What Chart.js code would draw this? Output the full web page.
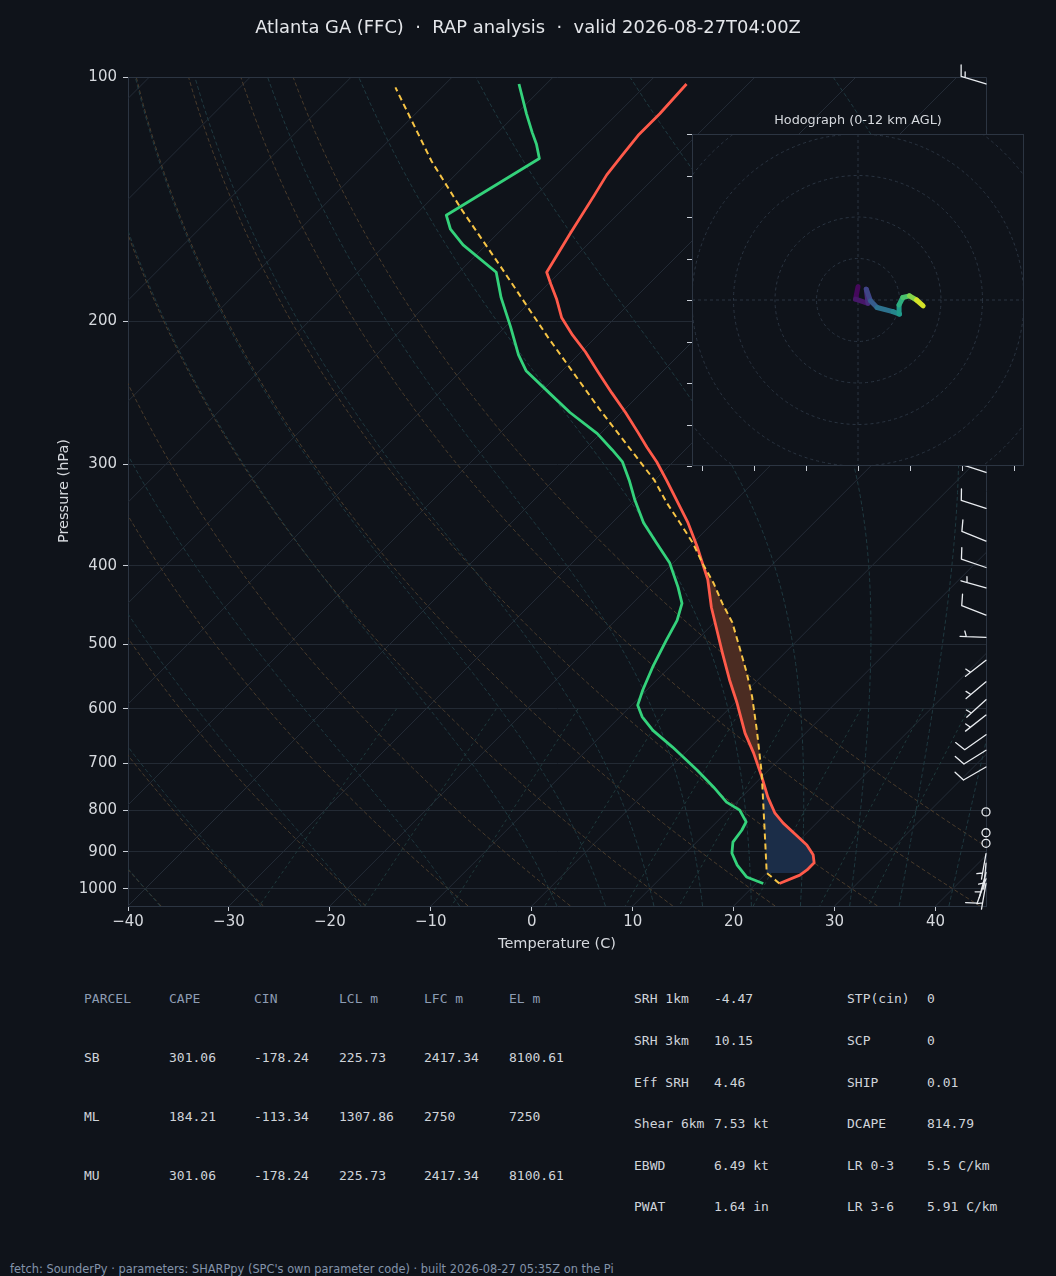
<!DOCTYPE html>
<html>
<head>
<meta charset="utf-8">
<title>Skew-T - Atlanta GA (FFC)</title>
<script src="https://cdn.jsdelivr.net/npm/chart.js@4.4.1/dist/chart.umd.min.js"></script>
<style>
  html, body { margin: 0; padding: 0; background: #0f131a; }
  #page { position: relative; width: 1056px; height: 1276px; overflow: hidden; background: #0f131a;
          font-family: 'DejaVu Sans', sans-serif; color: #d6d9de; }
  canvas { position: absolute; }
  #skewt { left: 0; top: 0; }
  #hodo { left: 686px; top: 128px; }
  .t { position: absolute; white-space: pre; line-height: 16px; }
  .mono { font-family: 'DejaVu Sans Mono', monospace; font-size: 13px; color: #cfd4da; }
  .head { color: #8d9cb3; }
</style>
</head>
<body>
<div id="page">
  <canvas id="skewt" width="1056" height="960"></canvas>
  <canvas id="hodo" width="344" height="344"></canvas>
  <div class="t" id="title" style="left:0; width:1056px; text-align:center; top:16px; font-size:17.9px; line-height:22px; color:#e4e6ea;">Atlanta GA (FFC)  ·  RAP analysis  ·  valid 2026-08-27T04:00Z</div>
  <div class="t" style="left:758px; width:200px; text-align:center; top:112px; font-size:12.8px;">Hodograph (0-12 km AGL)</div>
  <div class="t" style="left:357px; width:400px; text-align:center; top:935px; font-size:14.5px;">Temperature (C)</div>
  <div class="t" style="left:-37px; width:200px; text-align:center; top:483px; font-size:14.5px; transform:rotate(-90deg);">Pressure (hPa)</div>
  <div id="tables"></div>
  <div class="t" style="left:10px; top:1261px; font-size:11.4px; color:#8494aa;">fetch: SounderPy · parameters: SHARPpy (SPC's own parameter code) · built 2026-08-27 05:35Z on the Pi</div>
</div>
<script>
'use strict';

// ---- sounding (hPa / degC) ----
const tempP = [985, 962, 948, 929, 908, 883, 859, 830, 807, 771, 728, 680, 643, 590, 553, 512, 480, 450, 416, 401, 379, 354,
               314, 298, 286, 274, 259, 245, 231, 218, 208, 198, 188, 180, 174, 156, 140, 132, 125, 118, 111, 102];
const tempT = [22.3, 23.5, 23.7, 23.7, 22.8, 21.2, 19.2, 16.7, 14.9, 12.6, 10.0, 6.8, 4.0, 0.2, -2.8, -6.2, -9.0, -11.8, -14.9, -16.6, -19.2, -22.5,
               -28.8, -31.6, -34.0, -36.4, -39.6, -42.9, -46.3, -49.6, -52.5, -55.3, -57.6, -59.7, -61.3, -62.8, -64.2, -65.0, -65.4, -65.8, -65.8, -66.1];

const dewP = [985, 967, 935, 904, 876, 847, 827, 800, 782, 749, 714, 669, 638, 614, 594, 569, 533, 494, 467, 445, 425, 397,
              375, 354, 332, 314, 298, 288, 275, 259, 246, 230, 220, 203, 187, 174, 161, 154, 148, 126, 121, 117, 111, 102];
const dewT = [20.7, 18.4, 16.3, 14.6, 13.6, 13.3, 12.9, 11.1, 9.0, 6.2, 2.9, -1.8, -5.4, -7.8, -9.4, -10.4, -11.7, -13.0, -13.9, -15.1, -17.1, -20.3,
              -23.6, -26.9, -30.0, -32.5, -35.0, -37.2, -40.3, -45.1, -48.8, -53.6, -55.9, -59.5, -63.3, -66.3, -72.3, -75.1, -76.9, -73.3, -75.0, -76.6, -79.0, -82.7];

const parcelP = [985, 956, 888, 777, 720, 638, 580, 542, 508, 470, 445, 420, 399, 375, 354, 335, 314, 257, 209, 171, 146, 127, 103];
const parcelT = [22.3, 20.0, 17.3, 12.4, 9.6, 4.9, 1.1, -1.8, -4.7, -8.2, -11.1, -14.0, -16.8, -20.0, -23.3, -26.5, -30.0, -42.4, -54.8, -66.5, -75.8, -83.7, -94.6];

// shading limits (hPa): bottom of CIN shading, LFC, EL
const cinBottom = 956;
const lfcP = 722;
const elP = 388;

// ---- winds (direction deg, speed kt) ----
const windP =   [102, 125, 150, 200, 250, 307, 340, 373, 402, 426, 460, 490, 523, 556, 585, 611, 646, 675, 708, 804, 853, 879, 905, 930, 955, 972, 985];
const windDir = [287, 280, 275, 270, 280, 288, 288, 292, 289, 286, 291, 272, 232, 230, 228, 232, 235, 238, 240,   0,   0,   0, 190, 185, 195, 200, 190];
const windSpd = [ 15,  15,  15,  15,  10,  10,  10,  10,  10,   5,  10,   5,   5,   5,   5,   5,  10,  10,  10,   0,   0,   0,   5,   5,   5,  10,   5];

// ---- hodograph (u, v in kt; height km AGL) ----
const hodoU = [0.0, -0.6, 2.4, 2.0, 3.0, 4.6, 8.4, 10.0, 9.9, 10.8, 12.4, 14.1, 15.7];
const hodoV = [3.2, 0.2, -0.8, 2.6, -0.2, -1.8, -2.8, -3.4, -1.2, 0.6, 1.0, 0.0, -1.4];
const hodoH = [0, 0.5, 1, 2, 3, 4, 5, 6, 7, 8, 9, 10.5, 12];

// ---- axes ----
const pressureTicks = [100, 200, 300, 400, 500, 600, 700, 800, 900, 1000];
const tempTicks = [-40, -30, -20, -10, 0, 10, 20, 30, 40];
const hodoRings = [10, 20, 30, 40, 50];
const hodoXTicks = [-37.5, -25, -12.5, 0, 12.5, 25, 37.5];
const hodoYTicks = [-40, -30, -20, -10, 0, 10, 20, 30, 40];

// ---- parameter tables ----
const parcelHeader = ['PARCEL', 'CAPE', 'CIN', 'LCL m', 'LFC m', 'EL m'];
const parcelRows = [
  ['SB', '301.06', '-178.24', '225.73', '2417.34', '8100.61'],
  ['ML', '184.21', '-113.34', '1307.86', '2750', '7250'],
  ['MU', '301.06', '-178.24', '225.73', '2417.34', '8100.61']
];
const kinLabels = ['SRH 1km', 'SRH 3km', 'Eff SRH', 'Shear 6km', 'EBWD', 'PWAT'];
const kinValues = ['-4.47', '10.15', '4.46', '7.53 kt', '6.49 kt', '1.64 in'];
const thermoLabels = ['STP(cin)', 'SCP', 'SHIP', 'DCAPE', 'LR 0-3', 'LR 3-6'];
const thermoValues = ['0', '0', '0.01', '814.79', '5.5 C/km', '5.91 C/km'];

// reference lines
const dryT0 = [-40, -30, -20, -10, 0, 10, 20, 30, 40, 50];
const moistT0 = [-40, -30, -20, -10, 0, 5, 10, 15, 20, 25, 30, 35, 40, 45];
const mixRatios = [0.0004, 0.001, 0.002, 0.004, 0.007, 0.01, 0.016, 0.024, 0.032];

const BG = '#0f131a';
const P_BOTTOM = 1050, P_TOP = 100;
const SKEW = 80.42; // degC per pressure decade -> 45 deg isotherms on the 858x829 plot

const skewX = (t, p) => t + SKEW * Math.log10(P_BOTTOM / p);
const profile = (ps, ts) => ps.map((p, i) => ({x: skewX(ts[i], p), y: p}));

function valueAt(ps, ts, p) {
    for (let i = 0; i < ps.length - 1; i++) {
        if (p <= ps[i] && p >= ps[i + 1]) {
            const f = Math.log(ps[i] / p) / Math.log(ps[i] / ps[i + 1]);
            return ts[i] + f * (ts[i + 1] - ts[i]);
        }
    }
    return ts[ts.length - 1];
}

// points of a profile between two pressures, from hi to lo
function band(ps, ts, hi, lo) {
    const out = [{x: skewX(valueAt(ps, ts, hi), hi), y: hi}];
    ps.forEach((p, i) => { if (p < hi && p > lo) out.push({x: skewX(ts[i], p), y: p}); });
    out.push({x: skewX(valueAt(ps, ts, lo), lo), y: lo});
    return out;
}

const cinShape = band(parcelP, parcelT, cinBottom, lfcP).concat(band(tempP, tempT, cinBottom, lfcP).reverse());
const capeShape = band(parcelP, parcelT, lfcP, elP).concat(band(tempP, tempT, lfcP, elP).reverse());

// thermodynamic background
function logSteps(n) {
    const out = [];
    for (let i = 0; i <= n; i++) out.push(P_BOTTOM * Math.pow(P_TOP / P_BOTTOM, i / n));
    return out;
}

function dryAdiabat(t0) {
    return logSteps(60).map(p => ({x: skewX((t0 + 273.15) * Math.pow(p / 1000, 0.2857) - 273.15, p), y: p}));
}

function moistAdiabat(t0) {
    const Rd = 287.04, Cp = 1005.7, Lv = 2.501e6, eps = 0.622;
    const f = (p, T) => {
        const es = 6.112 * Math.exp(17.67 * (T - 273.15) / (T - 29.65));
        const rs = eps * es / (p - es);
        return (Rd * T + Lv * rs) / (Cp + Lv * Lv * rs * eps / (Rd * T * T)) / p;
    };
    const run = (pEnd, n) => {
        const pts = [];
        let T = t0 + 273.15, p = 1000;
        const dp = (pEnd - 1000) / n;
        pts.push({p, T});
        for (let i = 0; i < n; i++) {
            const k1 = f(p, T);
            const k2 = f(p + dp / 2, T + dp / 2 * k1);
            const k3 = f(p + dp / 2, T + dp / 2 * k2);
            const k4 = f(p + dp, T + dp * k3);
            T += dp / 6 * (k1 + 2 * k2 + 2 * k3 + k4);
            p += dp;
            pts.push({p, T});
        }
        return pts;
    };
    const pts = run(P_BOTTOM, 4).reverse().concat(run(P_TOP, 120).slice(1));
    return pts.map(o => ({x: skewX(o.T - 273.15, o.p), y: o.p}));
}

function mixingLine(w) {
    const out = [];
    for (let p = 600; p <= P_BOTTOM; p += 50) {
        const e = p * w / (0.622 + w);
        const l = Math.log(e / 6.112);
        out.push({x: skewX(243.5 * l / (17.67 - l), p), y: p});
    }
    return out;
}

const dryLines = dryT0.map(dryAdiabat);
const moistLines = moistT0.map(moistAdiabat);
const mixLines = mixRatios.map(mixingLine);

function strokePath(ctx, x, y, pts) {
    ctx.beginPath();
    pts.forEach((pt, i) => {
        const px = x.getPixelForValue(pt.x), py = y.getPixelForValue(pt.y);
        if (i === 0) ctx.moveTo(px, py); else ctx.lineTo(px, py);
    });
}

const skewBackground = {
    id: 'skewBackground',
    beforeDatasetsDraw(chart) {
        const {ctx, chartArea: a, scales: {x, y}} = chart;
        ctx.save();
        ctx.beginPath();
        ctx.rect(a.left, a.top, a.width, a.height);
        ctx.clip();
        ctx.lineWidth = 1;

        // isotherms
        ctx.strokeStyle = '#242c37';
        for (let t = -120; t <= 40; t += 10) {
            strokePath(ctx, x, y, [{x: skewX(t, P_BOTTOM), y: P_BOTTOM}, {x: skewX(t, P_TOP), y: P_TOP}]);
            ctx.stroke();
        }
        ctx.setLineDash([4, 2.5]);
        ctx.strokeStyle = '#4a3c2c';
        dryLines.forEach(l => { strokePath(ctx, x, y, l); ctx.stroke(); });
        ctx.strokeStyle = '#1f3940';
        moistLines.forEach(l => { strokePath(ctx, x, y, l); ctx.stroke(); });
        ctx.setLineDash([3, 3]);
        ctx.strokeStyle = '#1f3a3c';
        mixLines.forEach(l => { strokePath(ctx, x, y, l); ctx.stroke(); });
        ctx.setLineDash([]);

        // CIN / CAPE shading
        ctx.fillStyle = '#1b2d48';
        strokePath(ctx, x, y, cinShape);
        ctx.closePath();
        ctx.fill();
        ctx.fillStyle = '#4b2c22';
        strokePath(ctx, x, y, capeShape);
        ctx.closePath();
        ctx.fill();
        ctx.restore();

        // top and right spines
        ctx.save();
        ctx.strokeStyle = '#2c3542';
        ctx.lineWidth = 1;
        ctx.beginPath();
        ctx.moveTo(a.left, a.top + 0.5);
        ctx.lineTo(a.right + 0.5, a.top + 0.5);
        ctx.lineTo(a.right + 0.5, a.bottom);
        ctx.stroke();
        ctx.restore();
    }
};

// matplotlib-style barb: staff toward the wind source, feathers lean to the tip
function drawBarb(ctx, bx, by, dir, spd) {
    const L = 26, spacing = 4.2, lean = 17 * Math.PI / 180;
    if (spd < 2.5) {
        ctx.beginPath();
        ctx.arc(bx, by, 4, 0, 2 * Math.PI);
        ctx.stroke();
        return;
    }
    const r = dir * Math.PI / 180;
    const dx = Math.sin(r), dy = -Math.cos(r);
    const px = -dy, py = dx;
    const tx = bx + dx * L, ty = by + dy * L;
    ctx.beginPath();
    ctx.moveTo(bx, by);
    ctx.lineTo(tx, ty);
    const s = Math.round(spd / 5) * 5;
    const full = Math.floor(s / 10);
    const half = s - full * 10 >= 5;
    const fx = px * Math.cos(lean) + dx * Math.sin(lean);
    const fy = py * Math.cos(lean) + dy * Math.sin(lean);
    let off = 0;
    const feather = (len) => {
        const sx = tx - dx * off, sy = ty - dy * off;
        ctx.moveTo(sx, sy);
        ctx.lineTo(sx + fx * len, sy + fy * len);
        off += spacing;
    };
    for (let k = 0; k < full; k++) feather(11.5);
    if (half) {
        if (off === 0) off = 1.5 * spacing;
        feather(5.8);
    }
    ctx.stroke();
}

const windBarbs = {
    id: 'windBarbs',
    afterDatasetsDraw(chart) {
        const {ctx, chartArea: a, scales: {y}} = chart;
        ctx.save();
        ctx.strokeStyle = '#e9ecf0';
        ctx.lineWidth = 1.3;
        ctx.lineCap = 'round';
        windP.forEach((p, i) => drawBarb(ctx, a.right, y.getPixelForValue(p), windDir[i], windSpd[i]));
        ctx.restore();
    }
};

Chart.defaults.font.family = "'DejaVu Sans', sans-serif";
Chart.defaults.color = '#d6d9de';

new Chart(document.getElementById('skewt'), {
    type: 'scatter',
    data: {
        datasets: [
            {label: 'Parcel', data: profile(parcelP, parcelT), showLine: true, borderColor: '#f6c445',
             borderWidth: 2, borderDash: [6, 4], pointRadius: 0},
            {label: 'Temperature', data: profile(tempP, tempT), showLine: true, borderColor: '#ff5a4a',
             borderWidth: 2.8, pointRadius: 0, borderJoinStyle: 'round'},
            {label: 'Dewpoint', data: profile(dewP, dewT), showLine: true, borderColor: '#34d27b',
             borderWidth: 2.8, pointRadius: 0, borderJoinStyle: 'round'}
        ]
    },
    options: {
        responsive: false,
        animation: false,
        layout: {padding: {left: 0, right: 70, top: 77, bottom: 0}},
        plugins: {legend: {display: false}, tooltip: {enabled: false}},
        scales: {
            x: {
                type: 'linear', min: -40, max: 45,
                afterBuildTicks: s => { s.ticks = tempTicks.map(v => ({value: v})); },
                afterFit: s => { s.height = 54; },
                grid: {drawOnChartArea: false, tickLength: 5, tickColor: '#c9ced6'},
                border: {color: '#2c3542'},
                ticks: {font: {size: 15}, padding: 2, autoSkip: false, maxRotation: 0,
                        callback: v => v < 0 ? '\u2212' + (-v) : String(v)}
            },
            y: {
                type: 'logarithmic', reverse: true, min: P_TOP, max: P_BOTTOM,
                afterBuildTicks: s => { s.ticks = pressureTicks.map(v => ({value: v})); },
                afterFit: s => { s.width = 128; },
                grid: {color: '#232a34', tickLength: 5, tickColor: '#c9ced6'},
                border: {color: '#2c3542'},
                ticks: {font: {size: 15}, padding: 6, autoSkip: false, callback: v => String(v)}
            }
        }
    },
    plugins: [skewBackground, windBarbs]
});

// ---- hodograph inset ----
const viridisStops = ['#440154', '#482878', '#3e4989', '#31688e', '#26828e', '#1f9e89', '#35b779', '#6ece58', '#b5de2b', '#fde725'];
function viridis(f) {
    f = Math.max(0, Math.min(1, f)) * (viridisStops.length - 1);
    const i = Math.min(Math.floor(f), viridisStops.length - 2), k = f - i;
    const c = [viridisStops[i], viridisStops[i + 1]].map(h => [1, 3, 5].map(j => parseInt(h.substr(j, 2), 16)));
    return 'rgb(' + c[0].map((v, j) => Math.round(v + k * (c[1][j] - v))).join(',') + ')';
}

const hodoFrame = {
    id: 'hodoFrame',
    beforeDraw(chart) {
        const {ctx, chartArea: a} = chart;
        ctx.save();
        ctx.fillStyle = BG;
        ctx.fillRect(a.left, a.top, a.width, a.height);
        ctx.restore();
    },
    beforeDatasetsDraw(chart) {
        const {ctx, chartArea: a, scales: {x, y}} = chart;
        const cx = x.getPixelForValue(0), cy = y.getPixelForValue(0);
        ctx.save();
        ctx.beginPath();
        ctx.rect(a.left, a.top, a.width, a.height);
        ctx.clip();
        ctx.strokeStyle = '#2a3441';
        ctx.lineWidth = 1;
        ctx.setLineDash([3, 3]);
        hodoRings.forEach(r => {
            ctx.beginPath();
            ctx.arc(cx, cy, x.getPixelForValue(r) - cx, 0, 2 * Math.PI);
            ctx.stroke();
        });
        ctx.beginPath();
        ctx.moveTo(a.left, cy); ctx.lineTo(a.right, cy);
        ctx.moveTo(cx, a.top); ctx.lineTo(cx, a.bottom);
        ctx.stroke();
        ctx.restore();
    },
    afterDatasetsDraw(chart) {
        const {ctx, chartArea: a, scales: {x, y}} = chart;
        ctx.save();
        ctx.strokeStyle = '#2c3542';
        ctx.lineWidth = 1;
        ctx.strokeRect(a.left + 0.5, a.top + 0.5, a.width - 1, a.height - 1);
        ctx.strokeStyle = '#c9ced6';
        ctx.beginPath();
        hodoXTicks.forEach(v => {
            const px = Math.round(x.getPixelForValue(v)) + 0.5;
            ctx.moveTo(px, a.bottom); ctx.lineTo(px, a.bottom + 5);
        });
        hodoYTicks.forEach(v => {
            const py = Math.round(y.getPixelForValue(v)) + 0.5;
            ctx.moveTo(a.left, py); ctx.lineTo(a.left - 5, py);
        });
        ctx.stroke();
        ctx.restore();
    }
};

new Chart(document.getElementById('hodo'), {
    type: 'scatter',
    data: {
        datasets: [{
            data: hodoU.map((u, i) => ({x: u, y: hodoV[i]})),
            showLine: true, pointRadius: 0, borderWidth: 5,
            borderCapStyle: 'round', borderJoinStyle: 'round',
            segment: {borderColor: c => viridis((hodoH[c.p0DataIndex] + hodoH[c.p1DataIndex]) / 24)}
        }]
    },
    options: {
        responsive: false,
        animation: false,
        layout: {padding: 6},
        plugins: {legend: {display: false}, tooltip: {enabled: false}},
        scales: {
            x: {type: 'linear', min: -40, max: 40, display: false},
            y: {type: 'linear', min: -40, max: 40, display: false}
        }
    },
    plugins: [hodoFrame]
});

// ---- parameter tables ----
const tables = document.getElementById('tables');
function put(text, left, cy, cls) {
    const d = document.createElement('div');
    d.className = 't mono' + (cls ? ' ' + cls : '');
    d.style.left = left + 'px';
    d.style.top = (cy - 8) + 'px';
    d.textContent = text;
    tables.appendChild(d);
}
const parcelCols = [84, 169, 254, 339, 424, 509];
const parcelRowY = [999, 1058, 1117, 1176];
parcelHeader.forEach((h, j) => put(h, parcelCols[j], parcelRowY[0], 'head'));
parcelRows.forEach((row, i) => row.forEach((v, j) => put(v, parcelCols[j], parcelRowY[i + 1])));
const paramRowY = [999, 1041, 1083, 1124, 1166, 1207];
kinLabels.forEach((l, i) => {
    put(l, 634, paramRowY[i]);
    put(kinValues[i], 714, paramRowY[i]);
    put(thermoLabels[i], 847, paramRowY[i]);
    put(thermoValues[i], 927, paramRowY[i]);
});
</script>
</body>
</html>
